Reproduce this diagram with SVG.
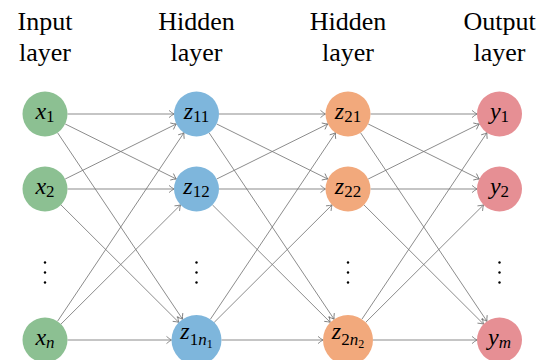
<svg xmlns="http://www.w3.org/2000/svg" width="547" height="360" viewBox="0 0 547 360" font-family="Liberation Serif, serif">
<style>
.hdr{font-size:26px;fill:#000;text-anchor:middle}
.lbl{font-size:24px;fill:#000;text-anchor:middle}
.it{font-style:italic}
.sub{font-size:17px}
.ssub{font-size:12px}
.e{stroke:#777;stroke-width:0.85;fill:none;marker-end:url(#arr)}
.in{fill:#8cc092}.h1{fill:#7eb6dc}.h2{fill:#f2a97c}.out{fill:#e68f94}
.dot{fill:#000}
</style>
<defs>
<marker id="arr" markerUnits="userSpaceOnUse" markerWidth="8" markerHeight="10" refX="6" refY="5" orient="auto">
<path d="M1,1.4 Q4,4 6,5 Q4,6 1,8.6" fill="none" stroke="#777" stroke-width="0.85"/>
</marker>
</defs>
<g id="headers">
<text class="hdr" x="45" y="30" style="font-family:'Liberation Serif',serif">Input</text><text class="hdr" x="45" y="61" style="font-family:'Liberation Serif',serif">layer</text>
<text class="hdr" x="196.5" y="30" style="font-family:'Liberation Serif',serif">Hidden</text><text class="hdr" x="196.5" y="61" style="font-family:'Liberation Serif',serif">layer</text>
<text class="hdr" x="348" y="30" style="font-family:'Liberation Serif',serif">Hidden</text><text class="hdr" x="348" y="61" style="font-family:'Liberation Serif',serif">layer</text>
<text class="hdr" x="499.5" y="30" style="font-family:'Liberation Serif',serif">Output</text><text class="hdr" x="499.5" y="61" style="font-family:'Liberation Serif',serif">layer</text>
</g>
<g id="connectors">
<line class="e" x1="67.5" y1="114" x2="174" y2="114"/>
<line class="e" x1="65.16" y1="123.98" x2="176.34" y2="179.02"/>
<line class="e" x1="57.53" y1="132.69" x2="182.58" y2="319.23"/>
<line class="e" x1="65.16" y1="179.02" x2="176.34" y2="123.98"/>
<line class="e" x1="67.5" y1="189" x2="174" y2="189"/>
<line class="e" x1="60.94" y1="204.88" x2="178.79" y2="322.35"/>
<line class="e" x1="57.53" y1="321.31" x2="183.97" y2="132.69"/>
<line class="e" x1="60.94" y1="324.12" x2="180.56" y2="204.88"/>
<line class="e" x1="67.5" y1="340" x2="171.5" y2="340"/>
<line class="e" x1="219" y1="114" x2="325.5" y2="114"/>
<line class="e" x1="216.66" y1="123.98" x2="327.84" y2="179.02"/>
<line class="e" x1="209.03" y1="132.69" x2="334.08" y2="319.23"/>
<line class="e" x1="216.66" y1="179.02" x2="327.84" y2="123.98"/>
<line class="e" x1="219" y1="189" x2="325.5" y2="189"/>
<line class="e" x1="212.44" y1="204.88" x2="330.29" y2="322.35"/>
<line class="e" x1="210.42" y1="319.23" x2="335.47" y2="132.69"/>
<line class="e" x1="214.21" y1="322.35" x2="332.06" y2="204.88"/>
<line class="e" x1="221.5" y1="340" x2="323" y2="340"/>
<line class="e" x1="370.5" y1="114" x2="477" y2="114"/>
<line class="e" x1="368.16" y1="123.98" x2="479.34" y2="179.02"/>
<line class="e" x1="360.53" y1="132.69" x2="486.97" y2="321.31"/>
<line class="e" x1="368.16" y1="179.02" x2="479.34" y2="123.98"/>
<line class="e" x1="370.5" y1="189" x2="477" y2="189"/>
<line class="e" x1="363.94" y1="204.88" x2="483.56" y2="324.12"/>
<line class="e" x1="361.92" y1="319.23" x2="486.97" y2="132.69"/>
<line class="e" x1="365.71" y1="322.35" x2="483.56" y2="204.88"/>
<line class="e" x1="373" y1="340" x2="477" y2="340"/>
</g>
<g id="x1"><circle class="in" cx="45" cy="114" r="22.5"/><text class="lbl" x="45" y="118.5" style="font-family:'Liberation Serif',serif"><tspan class="it">x</tspan><tspan class="sub" dy="3.5">1</tspan></text></g>
<g id="x2"><circle class="in" cx="45" cy="189" r="22.5"/><text class="lbl" x="45" y="193.5" style="font-family:'Liberation Serif',serif"><tspan class="it">x</tspan><tspan class="sub" dy="3.5">2</tspan></text></g>
<g id="xn"><circle class="in" cx="45" cy="340" r="22.5"/><text class="lbl" x="45" y="344.5" style="font-family:'Liberation Serif',serif"><tspan class="it">x</tspan><tspan class="sub it" dy="3.5">n</tspan></text></g>
<g id="z11"><circle class="h1" cx="196.5" cy="114" r="22.5"/><text class="lbl" x="196.5" y="118.5" style="font-family:'Liberation Serif',serif"><tspan class="it">z</tspan><tspan class="sub" dy="3.5">11</tspan></text></g>
<g id="z12"><circle class="h1" cx="196.5" cy="189" r="22.5"/><text class="lbl" x="196.5" y="193.5" style="font-family:'Liberation Serif',serif"><tspan class="it">z</tspan><tspan class="sub" dy="3.5">12</tspan></text></g>
<g id="z1n1"><circle class="h1" cx="196.5" cy="340" r="25"/><text class="lbl" x="196.5" y="338.5" style="font-family:'Liberation Serif',serif"><tspan class="it">z</tspan><tspan class="sub" dy="6">1</tspan><tspan class="sub it">n</tspan><tspan class="ssub" dy="3">1</tspan></text></g>
<g id="z21"><circle class="h2" cx="348" cy="114" r="22.5"/><text class="lbl" x="348" y="118.5" style="font-family:'Liberation Serif',serif"><tspan class="it">z</tspan><tspan class="sub" dy="3.5">21</tspan></text></g>
<g id="z22"><circle class="h2" cx="348" cy="189" r="22.5"/><text class="lbl" x="348" y="193.5" style="font-family:'Liberation Serif',serif"><tspan class="it">z</tspan><tspan class="sub" dy="3.5">22</tspan></text></g>
<g id="z2n2"><circle class="h2" cx="348" cy="340" r="25"/><text class="lbl" x="348" y="338.5" style="font-family:'Liberation Serif',serif"><tspan class="it">z</tspan><tspan class="sub" dy="6">2</tspan><tspan class="sub it">n</tspan><tspan class="ssub" dy="3">2</tspan></text></g>
<g id="y1"><circle class="out" cx="499.5" cy="114" r="22.5"/><text class="lbl" x="499.5" y="118.5" style="font-family:'Liberation Serif',serif"><tspan class="it">y</tspan><tspan class="sub" dy="3.5">1</tspan></text></g>
<g id="y2"><circle class="out" cx="499.5" cy="189" r="22.5"/><text class="lbl" x="499.5" y="193.5" style="font-family:'Liberation Serif',serif"><tspan class="it">y</tspan><tspan class="sub" dy="3.5">2</tspan></text></g>
<g id="ym"><circle class="out" cx="499.5" cy="340" r="22.5"/><text class="lbl" x="499.5" y="344.5" style="font-family:'Liberation Serif',serif"><tspan class="it">y</tspan><tspan class="sub it" dy="3.5">m</tspan></text></g>
<g id="vdots">
<circle class="dot" cx="45" cy="262.5" r="1.2"/><circle class="dot" cx="45" cy="272.5" r="1.2"/><circle class="dot" cx="45" cy="282.5" r="1.2"/>
<circle class="dot" cx="196.5" cy="262.5" r="1.2"/><circle class="dot" cx="196.5" cy="272.5" r="1.2"/><circle class="dot" cx="196.5" cy="282.5" r="1.2"/>
<circle class="dot" cx="348" cy="262.5" r="1.2"/><circle class="dot" cx="348" cy="272.5" r="1.2"/><circle class="dot" cx="348" cy="282.5" r="1.2"/>
<circle class="dot" cx="499.5" cy="262.5" r="1.2"/><circle class="dot" cx="499.5" cy="272.5" r="1.2"/><circle class="dot" cx="499.5" cy="282.5" r="1.2"/>
</g>
</svg>
